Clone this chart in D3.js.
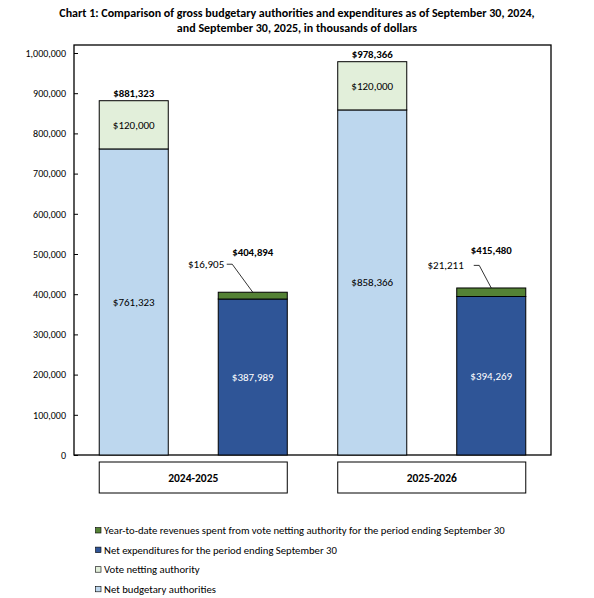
<!DOCTYPE html>
<html>
<head>
<meta charset="utf-8">
<script src="https://cdn.jsdelivr.net/npm/d3@7"></script>
<style>
  body { margin: 0; background: #fff; }
  text { font-family: Carlito, Calibri, Lato, sans-serif; }
</style>
</head>
<body>
<div id="chart"></div>
<script>
var years = ['2024-2025', '2025-2026'];
var groups = ['authorities', 'expenditures'];

var netBudgetary = [761323, 858366];
var voteNetting = [120000, 120000];
var netExpenditures = [387989, 394269];
var ytdRevenues = [16905, 21211];

var yTicks = [0, 100000, 200000, 300000, 400000, 500000, 600000, 700000, 800000, 900000, 1000000];

var legendItems = [
    { name: 'Year-to-date revenues spent from vote netting authority for the period ending September 30', color: '#548235' },
    { name: 'Net expenditures for the period ending September 30', color: '#2F5597' },
    { name: 'Vote netting authority', color: '#E2EFDA' },
    { name: 'Net budgetary authorities', color: '#BDD7EE' }
];

// leader label placement for the small green segments (x from bar left, y above bar top)
var leaderPos = [
    { dx: 8.5, dy: -28, gap: 2.5, totalDy: -36 },
    { dx: 17, dy: -22.6, gap: 10, totalDy: -34 }
];

var width = 594, height = 598;
var plot = { left: 74, right: 551, top: 45, bottom: 455 };

var svg = d3.select('#chart').append('svg')
    .attr('width', width)
    .attr('height', height);

// title
var title = svg.append('text')
    .attr('text-anchor', 'middle')
    .style('font-size', '12px')
    .style('font-weight', 'bold');
title.append('tspan').attr('x', 297).attr('y', 17)
    .text('Chart 1: Comparison of gross budgetary authorities and expenditures as of September 30, 2024,');
title.append('tspan').attr('x', 297).attr('y', 32)
    .text('and September 30, 2025, in thousands of dollars');

var y = d3.scaleLinear().domain([0, 1000000]).range([plot.bottom, 53]);
var x0 = d3.scaleBand().domain(years).range([plot.left, plot.right]);
var x1 = d3.scaleBand().domain(groups).range([0, x0.bandwidth()])
    .paddingInner(0.42).paddingOuter(0.212);

// plot frame
svg.append('rect')
    .attr('x', plot.left).attr('y', plot.top)
    .attr('width', plot.right - plot.left).attr('height', plot.bottom - plot.top)
    .attr('fill', 'none').attr('stroke', '#000').attr('stroke-width', 1.3);

// y axis
var yAxis = d3.axisLeft(y).tickValues(yTicks).tickSize(4).tickSizeOuter(0)
    .tickFormat(d3.format(','));
var gy = svg.append('g').attr('transform', `translate(${plot.left},0)`).call(yAxis);
gy.select('.domain').remove();
gy.selectAll('.tick line').attr('stroke', '#000').attr('transform', 'translate(4,0)');
gy.selectAll('.tick text').attr('x', -8).style('font-size', '10px')
    .style('font-family', 'Carlito, Calibri, Lato, sans-serif').attr('fill', '#000');

// stacks: [bottom, top] segments for each bar
var bars = [];
years.forEach(function(yr, i) {
    bars.push({ year: yr, idx: i, group: 'authorities', segs: [
        { v: netBudgetary[i], color: '#BDD7EE' },
        { v: voteNetting[i], color: '#E2EFDA' }
    ]});
    bars.push({ year: yr, idx: i, group: 'expenditures', segs: [
        { v: netExpenditures[i], color: '#2F5597' },
        { v: ytdRevenues[i], color: '#548235' }
    ]});
});

var fmt = function(v) { return '$' + d3.format(',')(v); };

bars.forEach(function(b) {
    var bx = x0(b.year) + x1(b.group);
    var bw = x1.bandwidth();
    var base = 0;
    var g = svg.append('g');
    b.segs.forEach(function(s) {
        var y0 = y(base), y1 = y(base + s.v);
        g.append('rect')
            .attr('x', bx).attr('y', y1)
            .attr('width', bw).attr('height', y0 - y1)
            .attr('fill', s.color)
            .attr('stroke', '#000').attr('stroke-width', 1);
        s.y0 = y0; s.y1 = y1;
        base += s.v;
    });
    var total = base;
    var cx = bx + bw / 2;
    // bottom segment label
    var s0 = b.segs[0];
    g.append('text')
        .attr('x', cx).attr('y', (s0.y0 + s0.y1) / 2).attr('dy', '0.35em')
        .attr('text-anchor', 'middle')
        .style('font-size', '11px')
        .attr('fill', b.group === 'expenditures' ? '#fff' : '#000')
        .text(fmt(s0.v));
    var s1 = b.segs[1];
    if (b.group === 'authorities') {
        g.append('text')
            .attr('x', cx).attr('y', (s1.y0 + s1.y1) / 2).attr('dy', '0.35em')
            .attr('text-anchor', 'middle')
            .style('font-size', '11px')
            .text(fmt(s1.v));
        g.append('text')
            .attr('x', cx).attr('y', y(total) - 4)
            .attr('text-anchor', 'middle')
            .style('font-size', '10.8px').style('font-weight', 'bold')
            .text(fmt(total));
    } else {
        // small segment label with leader line
        var p = leaderPos[b.idx];
        var lx = bx + p.dx, ly = y(total) + p.dy;
        g.append('text')
            .attr('x', lx - p.gap).attr('y', ly).attr('dy', '0.35em')
            .attr('text-anchor', 'end')
            .style('font-size', '11px')
            .text(fmt(s1.v));
        g.append('path')
            .attr('d', `M${lx},${ly}H${lx + 5.5}L${cx},${s1.y1}`)
            .attr('fill', 'none').attr('stroke', '#000').attr('stroke-width', 0.8);
        g.append('text')
            .attr('x', cx).attr('y', y(total) + p.totalDy)
            .attr('text-anchor', 'middle')
            .style('font-size', '10.8px').style('font-weight', 'bold')
            .text(fmt(total));
    }
});

// category boxes
years.forEach(function(yr) {
    var bx = x0(yr) + x1('authorities');
    var ex = x0(yr) + x1('expenditures') + x1.bandwidth();
    svg.append('rect')
        .attr('x', bx).attr('y', 462)
        .attr('width', ex - bx).attr('height', 31)
        .attr('fill', '#fff').attr('stroke', '#000').attr('stroke-width', 1);
    svg.append('text')
        .attr('x', (bx + ex) / 2).attr('y', 477.5).attr('dy', '0.35em')
        .attr('text-anchor', 'middle')
        .style('font-size', '11.5px').style('font-weight', 'bold')
        .text(yr);
});

// legend
var lg = svg.append('g').attr('transform', 'translate(95,530)');
legendItems.forEach(function(d, i) {
    var row = lg.append('g').attr('transform', `translate(0,${i * 19.6})`);
    row.append('rect')
        .attr('x', 0.5).attr('y', -2.5).attr('width', 5.5).attr('height', 5.5)
        .attr('fill', d.color).attr('stroke', '#000').attr('stroke-width', 0.6);
    row.append('text')
        .attr('x', 9).attr('y', 0.5).attr('dy', '0.35em')
        .style('font-size', '10.7px')
        .text(d.name);
});
</script>
</body>
</html>
